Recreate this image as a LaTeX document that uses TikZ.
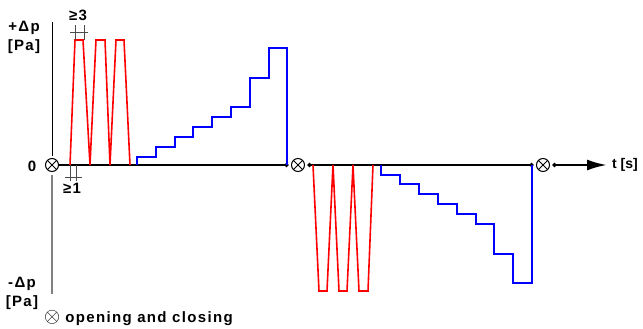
\documentclass[tikz,border=0pt]{standalone}
\usepackage{fontspec}
\setmainfont{Liberation Sans}
\newfontfamily\lblfont{Liberation Sans}[LetterSpace=9]
\usetikzlibrary{arrows.meta,positioning}

\tikzset{
  taxis/.style={line width=2.4pt,draw=black},
  paxis/.style={line width=1.6pt,draw=black!50},
  pulse/.style={line width=1.6pt,draw=red,line join=miter},
  ramp/.style={line width=1.4pt,draw=blue},
  tick/.style={line width=0.9pt,draw=black!70},
  valve/.style={circle,draw=black,line width=1pt,minimum size=13pt,inner sep=0pt,outer sep=3pt,
    path picture={\draw[line width=0.8pt] (path picture bounding box.north west)--(path picture bounding box.south east)
      (path picture bounding box.north east)--(path picture bounding box.south west);}},
  lbl/.style={font=\lblfont\bfseries\fontsize{15}{16}\selectfont,inner sep=0pt}
}

\begin{document}
\begin{tikzpicture}[x=1pt,y=-1pt]
  \useasboundingbox (0,0) rectangle (643,329);

  % Coordinates
  \coordinate (top) at (52,22);
  \coordinate (bot) at (52,294);
  \coordinate (tend) at (607,165);

  % Valves on the time axis
  \node[valve] (v0) at (52,165){};
  \node[valve] (v1) at (298,165){};
  \node[valve] (v2) at (543,165){};

  % Pressure axis
  \draw[paxis,draw=black,line width=1pt] (top)--(v0);
  \draw[paxis] (v0)--(bot);

  % Time axis
  \draw[taxis,shorten <=-3pt,-{Circle[length=4pt]}] (v0)--(v1);
  \draw[taxis,{Circle[length=4pt]}-{Circle[length=4pt]}] (v1)--(v2);
  \draw[taxis,{Circle[length=4pt]}-{Latex[length=20pt,width=11pt]}] (v2)--(tend);

  % Overpressure pulses
  \draw[pulse] (70,165)--(75,40)--(83,40)--(90,165)--(96,40)--(105,40)--(110,165)
    --(116,40)--(124,40)--(130,165);

  % Rising steps
  \draw[ramp] (137,165) |- (156,157) |- (175,147) |- (193,137) |- (212,127) |- (231,117)
    |- (250,107) |- (269,78) |- (287,48) -- (287,165);

  % Underpressure pulses
  \draw[pulse] (313,165)--(319,291)--(327,291)--(333,165)--(339,291)--(347,291)--(353,165)
    --(359,291)--(368,291)--(373,165);

  % Falling steps
  \draw[ramp] (381,165) |- (400,175) |- (419,184) |- (438,194) |- (457,204) |- (476,214)
    |- (494,224) |- (513,254) |- (532,283) -- (532,165);

  % Width marks
  \draw[tick] (75,25)--(75,40) (84,25)--(84,40) (70,32)--(88,32);
  \draw[tick] (70,165)--(70,181) (76,165)--(76,181) (65,177)--(82,177);

  % Labels
  \node[lbl] (pplus) at (24,28) {+Δp};
  \node[lbl,below=5pt of pplus] (ppa) {[Pa]};
  \node[lbl] (zero) at (32,166) {0};
  \node[lbl] (pminus) at (22,284) {-Δp};
  \node[lbl,below=5pt of pminus] (mpa) {[Pa]};
  \node[lbl,font=\bfseries\fontsize{14}{15}\selectfont,right=5pt of tend] (time) {t [s]};
  \node[lbl] (w3) at (78,15) {≥3};
  \node[lbl] (w1) at (72,188) {≥1};
  \node[lbl,anchor=west] (legend) at (44,318) {{\normalfont\huge$\otimes$}\hspace{5pt}opening and closing};
\end{tikzpicture}
\end{document}
